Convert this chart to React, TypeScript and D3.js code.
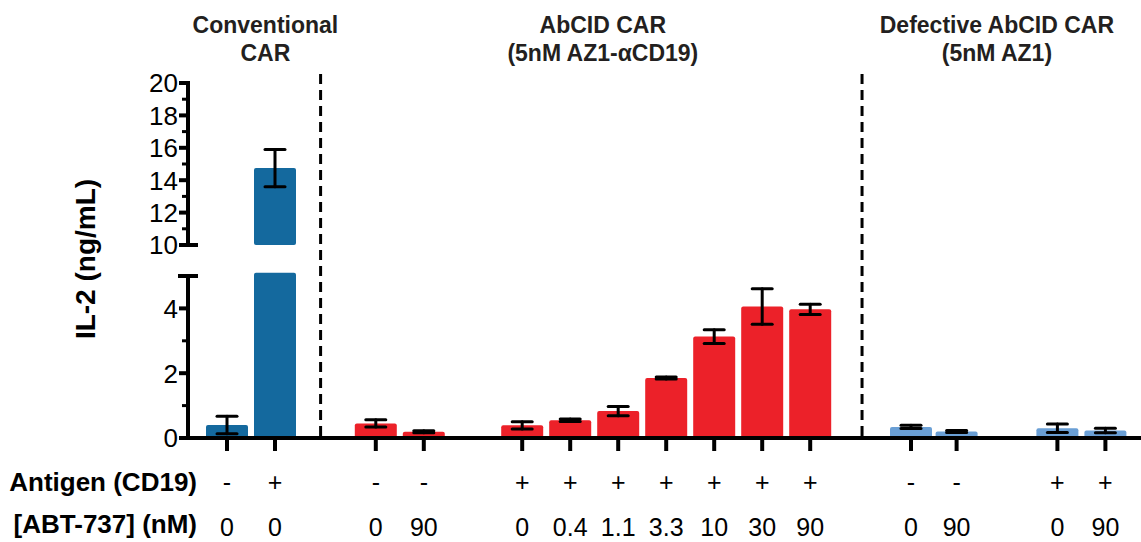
import React from "react";
import * as d3 from "d3";

const antigen = ["-", "+", "-", "-", "+", "+", "+", "+", "+", "+", "+", "-", "-", "+", "+"];
const abt = ["0", "0", "0", "90", "0", "0.4", "1.1", "3.3", "10", "30", "90", "0", "90", "0", "90"];
const construct = ["conv", "conv", "abcid", "abcid", "abcid", "abcid", "abcid", "abcid", "abcid", "abcid", "abcid", "defective", "defective", "defective", "defective"];
const il2 = [0.4, 14.75, 0.45, 0.19, 0.39, 0.55, 0.83, 1.85, 3.13, 4.06, 3.97, 0.34, 0.2, 0.3, 0.23];
const il2Err = [0.27, 1.15, 0.11, 0.03, 0.11, 0.04, 0.14, 0.03, 0.21, 0.55, 0.16, 0.05, 0.03, 0.13, 0.07];
// categorical slot position of each bar along the x axis
const slot = [0, 1, 3.1, 4.1, 6.15, 7.15, 8.15, 9.15, 10.15, 11.15, 12.15, 14.25, 15.2, 17.3, 18.3];
const dividerSlots = [1.95, 13.23];
const groupTitles = [
  { lines: ["Conventional", "CAR"], at: 0.8 },
  { lines: ["AbCID CAR", "(5nM AZ1-\u03B1CD19)"], at: 7.83 },
  { lines: ["Defective AbCID CAR", "(5nM AZ1)"], at: 16.04 },
];
const upperTicks = [10, 12, 14, 16, 18, 20];
const lowerTicks = [0, 2, 4];
const upperDomain = [10, 20];
const lowerDomain = [0, 5];

const colors: Record<string, string> = {
  conv: "#14699E",
  abcid: "#EC2129",
  defective: "#6A9FD5",
};

const W = 1141;
const H = 542;
const FONT = "'Liberation Sans', Arial, Helvetica, sans-serif";

export default function App() {
  const axisX = 188;
  const baseY = 438;
  const x = d3.scaleLinear().domain([0, 1]).range([227, 275]);
  const yLow = d3.scaleLinear().domain(lowerDomain).range([baseY, 276]);
  const yUp = d3.scaleLinear().domain(upperDomain).range([245, 83]);
  const barW = 42;
  const capW = 20;

  const upperMinor = d3.range(upperDomain[0], upperDomain[1] + 1, 1).filter((v) => !upperTicks.includes(v));
  const lowerMinor = d3.range(lowerDomain[0], lowerDomain[1], 1).filter((v) => !lowerTicks.includes(v));

  return (
    <svg width={W} height={H} style={{ position: "absolute", left: 0, top: 0, background: "#fff" }} fontFamily={FONT}>
      {/* group titles */}
      {groupTitles.map((g, i) => {
        const cx = x(g.at);
        return (
          <text key={i} x={cx} textAnchor="middle" fontWeight="bold" fontSize={23} fill="#231F20">
            {g.lines.map((l, j) => (
              <tspan key={j} x={cx} y={33 + j * 28}>
                {l}
              </tspan>
            ))}
          </text>
        );
      })}

      {/* dividers */}
      {dividerSlots.map((s, i) => (
        <line key={i} x1={x(s)} x2={x(s)} y1={74} y2={baseY} stroke="#000" strokeWidth={3} strokeDasharray="10 6" />
      ))}

      {/* bars */}
      {il2.map((v, i) => {
        const cx = x(slot[i]);
        const c = colors[construct[i]];
        const low = Math.min(v, lowerDomain[1] + 0.1);
        return (
          <g key={i}>
            <rect x={cx - barW / 2} y={yLow(low)} width={barW} height={baseY - yLow(low)} fill={c} rx={2} />
            {v > upperDomain[0] && (
              <rect x={cx - barW / 2} y={yUp(v)} width={barW} height={yUp(upperDomain[0]) - yUp(v)} fill={c} rx={2} />
            )}
          </g>
        );
      })}

      {/* error bars */}
      {il2.map((v, i) => {
        const cx = x(slot[i]);
        const sc = v > upperDomain[0] ? yUp : yLow;
        const t = sc(v + il2Err[i]);
        const b = sc(v - il2Err[i]);
        return (
          <g key={i} stroke="#000" strokeWidth={3} strokeLinecap="round">
            <line x1={cx} x2={cx} y1={t} y2={b} />
            <line x1={cx - capW / 2} x2={cx + capW / 2} y1={t} y2={t} />
            <line x1={cx - capW / 2} x2={cx + capW / 2} y1={b} y2={b} />
          </g>
        );
      })}

      {/* x baseline & ticks */}
      <line x1={axisX - 2} x2={W} y1={baseY} y2={baseY} stroke="#000" strokeWidth={4} />
      {slot.map((s, i) => (
        <line key={i} x1={x(s)} x2={x(s)} y1={baseY} y2={baseY + 13} stroke="#000" strokeWidth={4} />
      ))}

      {/* y axis upper */}
      <line x1={axisX} x2={axisX} y1={yUp(20) - 2} y2={yUp(10) + 2} stroke="#000" strokeWidth={4} />
      {upperTicks.map((t) => (
        <g key={t}>
          <line x1={axisX - 9} x2={t === 10 ? axisX + 10 : axisX} y1={yUp(t)} y2={yUp(t)} stroke="#000" strokeWidth={4} />
          <text x={axisX - 10} y={yUp(t)} dy="0.36em" textAnchor="end" fontSize={26} fill="#000">
            {t}
          </text>
        </g>
      ))}
      {upperMinor.map((t) => (
        <line key={t} x1={axisX - 6} x2={axisX} y1={yUp(t)} y2={yUp(t)} stroke="#000" strokeWidth={3} />
      ))}

      {/* y axis lower */}
      <line x1={axisX} x2={axisX} y1={yLow(5) - 2} y2={baseY + 2} stroke="#000" strokeWidth={4} />
      <line x1={axisX - 10} x2={axisX + 10} y1={yLow(5)} y2={yLow(5)} stroke="#000" strokeWidth={4} />
      {lowerTicks.map((t) => (
        <g key={t}>
          <line x1={axisX - 9} x2={axisX} y1={yLow(t)} y2={yLow(t)} stroke="#000" strokeWidth={4} />
          <text x={axisX - 10} y={yLow(t)} dy="0.36em" textAnchor="end" fontSize={26} fill="#000">
            {t}
          </text>
        </g>
      ))}
      {lowerMinor.map((t) => (
        <line key={t} x1={axisX - 6} x2={axisX} y1={yLow(t)} y2={yLow(t)} stroke="#000" strokeWidth={3} />
      ))}

      {/* y label */}
      <text
        transform={`translate(95, ${259}) rotate(-90)`}
        textAnchor="middle"
        fontWeight="bold"
        fontSize={28}
        fill="#000"
      >
        IL-2 (ng/mL)
      </text>

      {/* row labels */}
      <text x={197} y={491} textAnchor="end" fontWeight="bold" fontSize={26} fill="#000">
        Antigen (CD19)
      </text>
      <text x={197} y={533} textAnchor="end" fontWeight="bold" fontSize={26} fill="#000">
        [ABT-737] (nM)
      </text>
      {antigen.map((a, i) => (
        <text key={i} x={x(slot[i])} y={491} textAnchor="middle" fontSize={25} fill="#000">
          {a}
        </text>
      ))}
      {abt.map((a, i) => (
        <text key={i} x={x(slot[i])} y={536} textAnchor="middle" fontSize={25} fill="#000">
          {a}
        </text>
      ))}
    </svg>
  );
}
